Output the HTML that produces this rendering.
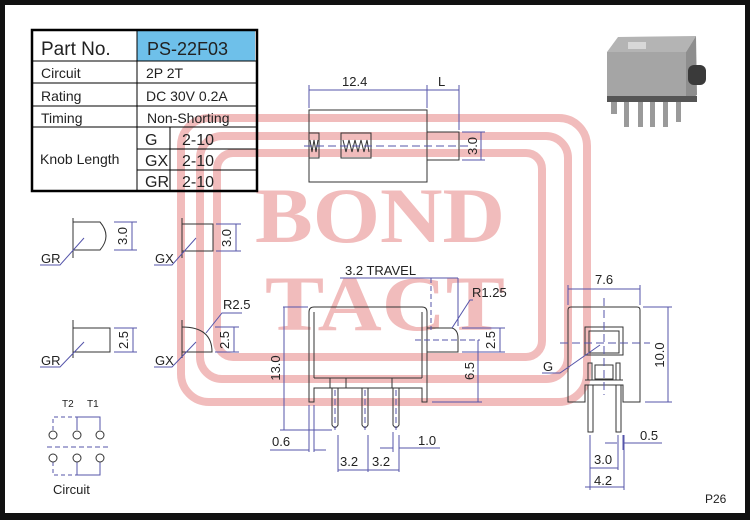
<!DOCTYPE html>
<html><head><meta charset="utf-8"><style>
html,body{margin:0;padding:0;background:#000;}
svg{display:block;}
text{font-family:"Liberation Sans",sans-serif;}
</style></head><body>
<svg width="750" height="520" viewBox="0 0 750 520" xmlns="http://www.w3.org/2000/svg">
<rect x="0" y="0" width="750" height="520" fill="#111"/>
<rect x="5" y="5" width="740" height="508" fill="#fff"/>
<!-- watermark -->
<g fill="none" stroke="#f1bcbc" stroke-width="8">
<rect x="181" y="118" width="406" height="284" rx="28"/>
<rect x="200" y="136" width="368" height="243" rx="22"/>
<rect x="217" y="153" width="325" height="204" rx="16"/>
</g>
<g fill="#f1bcbc" font-family="Liberation Serif,serif" font-weight="bold" font-size="78">
<text x="380" y="242" text-anchor="middle" textLength="250" lengthAdjust="spacingAndGlyphs" style="font-family:'Liberation Serif',serif">BOND</text>
<text x="385" y="330" text-anchor="middle" textLength="240" lengthAdjust="spacingAndGlyphs" style="font-family:'Liberation Serif',serif">TACT</text>
</g>
<!-- table -->
<rect x="137" y="31" width="118" height="30" fill="#6ec0ea"/>
<g stroke="#000" stroke-width="1" fill="none">
<line x1="32" y1="61" x2="257" y2="61"/><line x1="32" y1="83" x2="257" y2="83"/>
<line x1="32" y1="106" x2="257" y2="106"/><line x1="32" y1="127" x2="257" y2="127"/>
<line x1="137" y1="149" x2="257" y2="149"/><line x1="137" y1="170" x2="257" y2="170"/>
<line x1="137" y1="30" x2="137" y2="191"/><line x1="170" y1="127" x2="170" y2="191"/>
<rect x="32" y="30" width="225" height="161" stroke-width="2.5"/>
</g>
<g font-size="14" fill="#222">
<text x="41" y="55" font-size="19">Part  No.</text>
<text x="147" y="55" font-size="18">PS-22F03</text>
<text x="41" y="78">Circuit</text><text x="146" y="78">2P  2T</text>
<text x="41" y="101">Rating</text><text x="146" y="101">DC  30V  0.2A</text>
<text x="41" y="123">Timing</text><text x="147" y="123">Non-Shorting</text>
<text x="40" y="164">Knob  Length</text>
<text x="145" y="145" font-size="16">G</text><text x="182" y="145" font-size="16">2-10</text>
<text x="145" y="166" font-size="16">GX</text><text x="182" y="166" font-size="16">2-10</text>
<text x="145" y="187" font-size="16">GR</text><text x="182" y="187" font-size="16">2-10</text>
</g>
<!-- top view -->
<g stroke="#333" fill="none" stroke-width="1">
<rect x="309" y="110" width="118" height="72"/>
<rect x="427" y="132" width="32" height="28"/>
<rect x="309" y="133" width="10" height="25"/>
<rect x="341" y="133" width="30" height="25"/>
<polyline points="310,140 312,152 314,140 316,152 318,140"/>
<polyline points="343,140 346,152 349,140 352,152 355,140 358,152 361,140 364,152 367,140 369,152"/>
</g>
<g stroke="#5555aa" fill="none" stroke-width="1">
<line x1="304" y1="146" x2="470" y2="146" stroke-dasharray="8,4"/>
<line x1="309" y1="85" x2="309" y2="108"/><line x1="427" y1="85" x2="427" y2="108"/><line x1="459" y1="85" x2="459" y2="130"/>
<line x1="309" y1="90" x2="459" y2="90"/>
<line x1="462" y1="132" x2="485" y2="132"/><line x1="462" y1="160" x2="485" y2="160"/><line x1="481" y1="132" x2="481" y2="160"/>
</g>
<g font-size="13" fill="#222">
<text x="342" y="86">12.4</text><text x="438" y="86">L</text>
<text transform="translate(477,146) rotate(-90)" text-anchor="middle">3.0</text>
</g>
<!-- knobs -->
<g stroke="#333" fill="none">
<line x1="73" y1="218" x2="73" y2="258"/><path d="M73,222 H100 Q112,236 100,250 H73"/>
<line x1="182" y1="218" x2="182" y2="258"/><path d="M182,224 H213 V251 H182"/>
<line x1="73" y1="320" x2="73" y2="358"/><path d="M73,328 H110 V352 H73"/>
<line x1="182" y1="320" x2="182" y2="358"/><path d="M182,327 Q212,327 212,352 H182"/>
</g>
<g stroke="#5555aa" fill="none">
<path d="M40,265 H60 L84,238"/><path d="M154,265 H172 L196,238"/>
<path d="M40,367 H60 L84,342"/><path d="M154,367 H172 L196,342"/>
<path d="M242,313 H222 L206,333"/>
<line x1="114" y1="222" x2="137" y2="222"/><line x1="114" y1="250" x2="137" y2="250"/><line x1="132" y1="222" x2="132" y2="250"/>
<line x1="216" y1="224" x2="241" y2="224"/><line x1="216" y1="251" x2="241" y2="251"/><line x1="236" y1="224" x2="236" y2="251"/>
<line x1="114" y1="328" x2="137" y2="328"/><line x1="114" y1="352" x2="137" y2="352"/><line x1="133" y1="328" x2="133" y2="352"/>
<line x1="215" y1="327" x2="239" y2="327"/><line x1="215" y1="352" x2="239" y2="352"/><line x1="234" y1="327" x2="234" y2="352"/>
</g>
<g font-size="13" fill="#222">
<text x="41" y="263">GR</text><text x="155" y="263">GX</text>
<text x="41" y="365">GR</text><text x="155" y="365">GX</text>
<text x="223" y="309">R2.5</text>
<text transform="translate(127,236) rotate(-90)" text-anchor="middle">3.0</text>
<text transform="translate(231,238) rotate(-90)" text-anchor="middle">3.0</text>
<text transform="translate(128,340) rotate(-90)" text-anchor="middle">2.5</text>
<text transform="translate(229,340) rotate(-90)" text-anchor="middle">2.5</text>
</g>
<!-- circuit -->
<g font-size="10" fill="#222"><text x="62" y="407">T2</text><text x="87" y="407">T1</text></g>
<g stroke="#5555aa" fill="none">
<path d="M53,430 V417 H77" stroke-dasharray="4,3"/><path d="M77,430 V417 H100 V430"/>
<path d="M53,462 V475 H77" stroke-dasharray="4,3"/><path d="M77,462 V475 H100 V462"/>
<line x1="47" y1="447" x2="108" y2="447" stroke-dasharray="5,3"/>
</g>
<g stroke="#333" fill="#fff">
<circle cx="53" cy="435" r="4"/><circle cx="77" cy="435" r="4"/><circle cx="100" cy="435" r="4"/>
<circle cx="53" cy="458" r="4"/><circle cx="77" cy="458" r="4"/><circle cx="100" cy="458" r="4"/>
</g>
<text x="53" y="494" font-size="13" fill="#222">Circuit</text>
<!-- side view -->
<g stroke="#333" fill="none">
<path d="M309,402 V312 Q309,307 314,307 H422 Q427,307 427,312 V402 H422 V388 H314 V402 Z"/>
<line x1="314" y1="312" x2="314" y2="378"/><line x1="422" y1="312" x2="422" y2="378"/>
<path d="M314,378 H346 V388 M330,378 V388 M346,378 H392 V388 M392,378 H422"/>
<path d="M427,328 H452 Q458,330 458,338 V352 H427"/>
<path d="M332,388 V425 Q335,430 338,425 V388"/>
<path d="M362,388 V425 Q365,430 368,425 V388"/>
<path d="M393,388 V425 Q396,430 399,425 V388"/>
</g>
<g stroke="#5555aa" fill="none">
<line x1="335" y1="390" x2="335" y2="430" stroke-dasharray="6,3"/><line x1="365" y1="390" x2="365" y2="430" stroke-dasharray="6,3"/><line x1="396" y1="390" x2="396" y2="430" stroke-dasharray="6,3"/>
<line x1="340" y1="278" x2="458" y2="278"/><line x1="431" y1="278" x2="431" y2="330" stroke-dasharray="5,3"/><line x1="458" y1="278" x2="458" y2="326"/>
<path d="M473,300 H470 L452,328"/>
<line x1="415" y1="340" x2="480" y2="340" stroke-dasharray="6,3"/>
<line x1="462" y1="328" x2="505" y2="328"/><line x1="462" y1="352" x2="505" y2="352"/><line x1="500" y1="328" x2="500" y2="352"/>
<line x1="478" y1="340" x2="478" y2="402"/><line x1="432" y1="402" x2="482" y2="402"/>
<line x1="283" y1="307" x2="308" y2="307"/><line x1="284" y1="307" x2="284" y2="430"/><line x1="280" y1="430" x2="332" y2="430"/>
<line x1="309" y1="405" x2="309" y2="452"/><line x1="314" y1="405" x2="314" y2="452"/>
<path d="M270,450 H309 M314,450 H326"/>
<line x1="338" y1="435" x2="338" y2="472"/><line x1="368" y1="435" x2="368" y2="472"/><line x1="399" y1="435" x2="399" y2="472"/>
<line x1="393" y1="432" x2="393" y2="452"/>
<line x1="338" y1="470" x2="399" y2="470"/>
<path d="M380,448 H393 M399,448 H440"/>
</g>
<g font-size="13" fill="#222">
<text x="345" y="275">3.2  TRAVEL</text><text x="472" y="297">R1.25</text>
<text transform="translate(495,340) rotate(-90)" text-anchor="middle">2.5</text>
<text transform="translate(474,371) rotate(-90)" text-anchor="middle">6.5</text>
<text transform="translate(280,368) rotate(-90)" text-anchor="middle">13.0</text>
<text x="272" y="446">0.6</text><text x="418" y="445">1.0</text>
<text x="340" y="466">3.2</text><text x="372" y="466">3.2</text>
</g>
<!-- front view -->
<g stroke="#333" fill="none">
<path d="M568,402 V310 Q568,307 571,307 H637 Q640,307 640,310 V402 H623 V385 H585 V402 Z"/>
<rect x="585" y="327" width="38" height="28"/><rect x="589" y="331" width="30" height="22"/>
<rect x="588" y="363" width="4" height="17"/><rect x="616" y="363" width="4" height="17"/>
<rect x="595" y="365" width="18" height="14"/>
<line x1="585" y1="380" x2="623" y2="380"/>
<rect x="588" y="385" width="5" height="47"/><rect x="616" y="385" width="5" height="47"/>
</g>
<g stroke="#5555aa" fill="none">
<line x1="604" y1="298" x2="604" y2="395" stroke-dasharray="8,4"/>
<line x1="560" y1="343" x2="650" y2="343" stroke-dasharray="8,4"/>
<line x1="568" y1="289" x2="640" y2="289"/><line x1="568" y1="285" x2="568" y2="305"/><line x1="640" y1="285" x2="640" y2="305"/>
<line x1="643" y1="307" x2="672" y2="307"/><line x1="645" y1="402" x2="672" y2="402"/><line x1="668" y1="307" x2="668" y2="402"/>
<path d="M542,373 H560 L600,345"/>
<line x1="590" y1="435" x2="590" y2="490"/><line x1="624" y1="435" x2="624" y2="490"/><line x1="618" y1="435" x2="618" y2="470"/><line x1="623" y1="435" x2="623" y2="450"/>
<line x1="590" y1="468" x2="618" y2="468"/><line x1="585" y1="487" x2="624" y2="487"/>
<path d="M605,443 H617 M624,443 H662"/>
</g>
<g font-size="13" fill="#222">
<text x="595" y="284">7.6</text>
<text transform="translate(664,355) rotate(-90)" text-anchor="middle">10.0</text>
<text x="543" y="371">G</text>
<text x="640" y="440">0.5</text><text x="594" y="464">3.0</text><text x="594" y="485">4.2</text>
<text x="705" y="503" font-size="12">P26</text>
</g>
<!-- product image -->
<polygon points="607,52 618,37 696,36 686,52" fill="#b4b4b4"/>
<polygon points="628,42 646,42 646,49 628,49" fill="#d8d8d8"/>
<rect x="607" y="52" width="79" height="50" fill="#a5a5a5"/>
<polygon points="686,52 696,36 697,95 686,102" fill="#8e8e8e"/>
<rect x="688" y="65" width="18" height="20" rx="6" fill="#3a3a3a"/>
<rect x="607" y="96" width="90" height="6" fill="#555"/>
<g fill="#9a9a9a"><rect x="611" y="102" width="6" height="12"/><rect x="624" y="102" width="5" height="25"/><rect x="638" y="102" width="5" height="25"/><rect x="650" y="102" width="5" height="25"/><rect x="663" y="102" width="5" height="25"/><rect x="676" y="102" width="5" height="20"/></g>
</svg>
</body></html>
